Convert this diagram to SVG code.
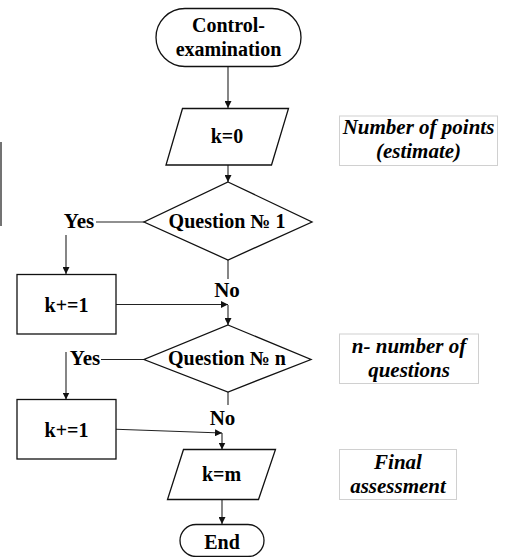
<svg xmlns="http://www.w3.org/2000/svg" width="507" height="557" viewBox="0 0 507 557">
<defs>
<marker id="ah" viewBox="0 0 10 10" refX="10" refY="5" markerWidth="7" markerHeight="7" markerUnits="userSpaceOnUse" orient="auto">
<path d="M0,0 L10,5 L0,10 Z" fill="#111"/>
</marker>
</defs>
<style>
.sh{fill:#fff;stroke:#111;stroke-width:1.3}
.ln{fill:none;stroke:#222;stroke-width:1.1}
.ar{fill:none;stroke:#222;stroke-width:1.1;marker-end:url(#ah)}
.t{font-family:"Liberation Serif","Times New Roman",serif;font-weight:bold;font-size:20px;fill:#000;text-anchor:middle}
.lb{font-family:"Liberation Serif","Times New Roman",serif;font-weight:bold;font-size:21px;fill:#000;text-anchor:middle}
.nt{font-family:"Liberation Serif","Times New Roman",serif;font-weight:bold;font-style:italic;font-size:21px;fill:#000;text-anchor:middle}
.nb{fill:#fff;stroke:#d0d0d0;stroke-width:1}
</style>
<rect width="507" height="557" fill="#fff"/>
<line x1="1" y1="142" x2="1" y2="226" stroke="#444" stroke-width="1.5"/>
<g id="connectors">
<line class="ar" x1="228" y1="67" x2="228" y2="108"/>
<line class="ar" x1="228" y1="165" x2="228" y2="182"/>
<line class="ln" x1="144" y1="222" x2="96" y2="222"/>
<line class="ar" x1="66" y1="235" x2="66" y2="274"/>
<line class="ln" x1="228" y1="260" x2="228" y2="279"/>
<line class="ar" x1="116" y1="304.5" x2="228" y2="304.5"/>
<line class="ar" x1="228" y1="305" x2="228" y2="325"/>
<line class="ln" x1="144" y1="359.5" x2="101" y2="359.5"/>
<line class="ar" x1="66" y1="352" x2="66" y2="399.5"/>
<line class="ln" x1="228" y1="392" x2="228" y2="405"/>
<line class="ar" x1="116" y1="429.3" x2="222" y2="433"/>
<line class="ar" x1="222" y1="433" x2="222" y2="449.5"/>
<line class="ar" x1="222" y1="499.5" x2="222" y2="524"/>
</g>
<g id="start">
<rect class="sh" x="156" y="8.5" width="145" height="58" rx="29"/>
<text class="t" x="228.5" y="31.5">Control-</text>
<text class="t" x="228.5" y="56">examination</text>
</g>
<g id="init">
<polygon class="sh" points="182.5,108.5 288.5,108.5 271.5,165 166,165"/>
<text class="t" x="227" y="143" font-size="21">k=0</text>
</g>
<g id="q1">
<polygon class="sh" points="228,182 312,222 228,260 144,222"/>
<text class="t" x="227" y="228">Question № 1</text>
</g>
<g id="yes1"><text class="lb" x="79" y="227.5">Yes</text></g>
<g id="inc1">
<rect class="sh" x="17" y="274.5" width="99" height="59.5"/>
<text class="t" x="66.5" y="312" font-size="21">k+=1</text>
</g>
<g id="no1"><text class="lb" x="227" y="297">No</text></g>
<g id="qn">
<polygon class="sh" points="228,325 311,359.5 228,392 144,359.5"/>
<text class="t" x="227" y="365">Question № n</text>
</g>
<g id="yes2"><text class="lb" x="85" y="365">Yes</text></g>
<g id="inc2">
<rect class="sh" x="17" y="399.5" width="99" height="59.5"/>
<text class="t" x="66.5" y="436.5" font-size="21">k+=1</text>
</g>
<g id="no2"><text class="lb" x="222.5" y="425">No</text></g>
<g id="final">
<polygon class="sh" points="183.5,449.5 275.5,449.5 258.5,499.5 167.5,499.5"/>
<text class="t" x="221.5" y="481" font-size="21">k=m</text>
</g>
<g id="end">
<rect class="sh" x="180" y="524.5" width="84" height="32" rx="16"/>
<text class="t" x="222" y="548.5">End</text>
</g>
<g id="note1">
<rect class="nb" x="339.5" y="116" width="158" height="49.5"/>
<text class="nt" x="418.5" y="133.5">Number of points</text>
<text class="nt" x="418.5" y="157.5">(estimate)</text>
</g>
<g id="note2">
<rect class="nb" x="339.5" y="334" width="139" height="49.5"/>
<text class="nt" x="409" y="353">n- number of</text>
<text class="nt" x="409" y="376.5">questions</text>
</g>
<g id="note3">
<rect class="nb" x="339.5" y="449.5" width="117" height="50"/>
<text class="nt" x="398" y="468.5">Final</text>
<text class="nt" x="398" y="493">assessment</text>
</g>
</svg>
